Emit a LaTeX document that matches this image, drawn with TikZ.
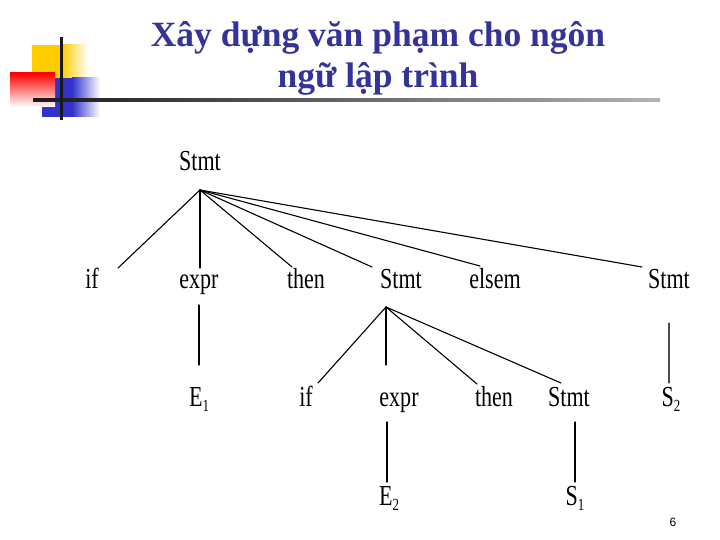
\documentclass[tikz,border=0pt]{standalone}
\usepackage{fontspec}
\setmainfont{Liberation Serif}
\setsansfont{Liberation Sans}
\definecolor{titleblue}{RGB}{51,51,153}
\definecolor{decoyellow}{RGB}{255,204,0}
\definecolor{decoblue}{RGB}{51,51,204}
\definecolor{decored}{RGB}{255,0,0}
\newcommand{\subn}[1]{\raisebox{-0.18em}{\fontsize{17}{17}\selectfont #1}}
\begin{document}
\begin{tikzpicture}[x=1pt,y=-1pt,
  lbl/.style={font=\fontsize{29}{29}\selectfont, xscale=0.76, inner sep=0, anchor=base},
  edge/.style={line width=1.1pt, line cap=round},
  ttl/.style={font=\fontsize{35.5}{35.5}\selectfont\bfseries, text=titleblue, inner sep=0, anchor=base}]
\useasboundingbox (0,0) rectangle (720,540);
% decoration
\fill[decoyellow] (32,45) rectangle (62,78);
\shade[left color=decoyellow, right color=white] (62,45) rectangle (88,78);
\fill[decoblue] (42,78) rectangle (72,117);
\shade[left color=decoblue, right color=white] (72,78) rectangle (100,117);
\shade[shading angle=-50, top color=decored, middle color=decored!45, bottom color=white] (10,73) rectangle (55,107);
\shade[left color=black!90, right color=black!30] (33,98.5) rectangle (660,101.5);
\fill[black!90] (59.5,37) rectangle (62.5,120);
% title
\node[ttl] (t1) at (378,47) {Xây dựng văn phạm cho ngôn};
\node[ttl] (t2) at (378,88) {ngữ lập trình};
% tree labels
\node[lbl] (root) at (200,171) {Stmt};
\node[lbl] (if1) at (92,288) {if};
\node[lbl] (expr1) at (199,288) {expr};
\node[lbl] (then1) at (306,288) {then};
\node[lbl] (stmt2) at (401,288) {Stmt};
\node[lbl] (elsem) at (495,288) {elsem};
\node[lbl] (stmt4) at (669,288) {Stmt};
\node[lbl] (e1) at (199,406) {E\subn{1}};
\node[lbl] (if2) at (306,406) {if};
\node[lbl] (expr2) at (399,406) {expr};
\node[lbl] (then2) at (494,406) {then};
\node[lbl] (stmt3) at (569,406) {Stmt};
\node[lbl] (s2) at (671,406) {S\subn{2}};
\node[lbl] (e2) at (389,505) {E\subn{2}};
\node[lbl] (s1) at (575,505) {S\subn{1}};
\node[font=\sffamily\fontsize{12}{12}\selectfont, inner sep=0] (pg) at (673,522) {6};
% connector points
\coordinate (r0) at (200,190);
\coordinate (rif) at (118,268);
\coordinate (rexpr) at (200,268);
\coordinate (rthen) at (292,267);
\coordinate (rstmt) at (372,267);
\coordinate (relse) at (480,266);
\coordinate (rstmt4) at (642,267);
\coordinate (ex1a) at (199,305);
\coordinate (ex1b) at (199,365);
\coordinate (s0) at (386,307);
\coordinate (sif) at (318,383);
\coordinate (sexpr) at (386,365);
\coordinate (sthen) at (477,384);
\coordinate (sstmt) at (561,383);
\coordinate (st4a) at (669,323);
\coordinate (st4b) at (669,383);
\coordinate (ex2a) at (387,422);
\coordinate (ex2b) at (387,482);
\coordinate (st3a) at (575,422);
\coordinate (st3b) at (575,482);
% edges
\foreach \t in {rif,rexpr,rthen,rstmt,relse,rstmt4} \draw[edge] (r0) -- (\t);
\foreach \t in {sif,sexpr,sthen,sstmt} \draw[edge] (s0) -- (\t);
\draw[edge] (ex1a) -- (ex1b);
\draw[edge, black!70] (st4a) -- (st4b);
\draw[edge] (ex2a) -- (ex2b);
\draw[edge] (st3a) -- (st3b);
\end{tikzpicture}
\end{document}
